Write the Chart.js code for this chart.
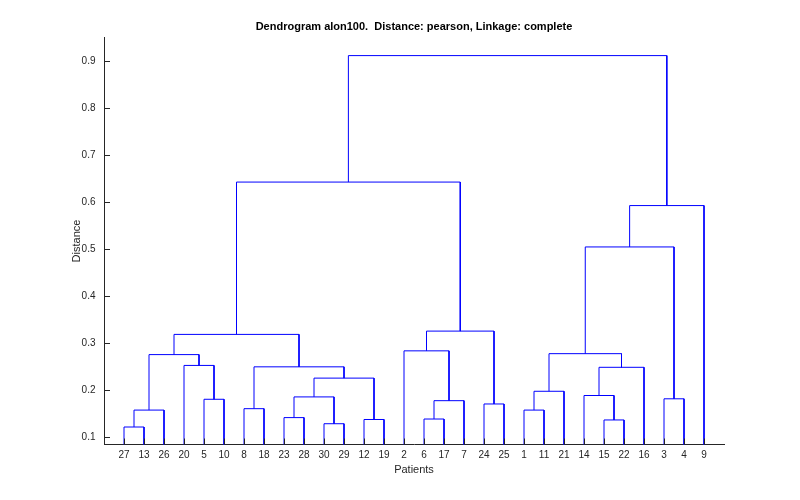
<!DOCTYPE html>
<html>
<head>
<meta charset="utf-8">
<script src="https://cdn.jsdelivr.net/npm/chart.js@4/dist/chart.umd.min.js"></script>
<style>
  html, body { margin: 0; padding: 0; background: #fff; }
  #wrap { width: 800px; height: 500px; }
</style>
</head>
<body>
<div id="wrap"><canvas id="myChart" width="800" height="500"></canvas></div>
<script>
// leaf order along the x axis (patient numbers)
const leafOrder = [27, 13, 26, 20, 5, 10, 8, 18, 23, 28, 30, 29, 12, 19, 2, 6, 17, 7, 24, 25, 1, 11, 21, 14, 15, 22, 16, 3, 4, 9]

// linkage rows: row i makes node 31 + i from linkLeft[i] and linkRight[i] at linkHeight[i]
const linkLeft = [27, 30, 15, 12, 6, 23, 31, 1, 8, 24, 35, 5, 3, 36, 14, 38, 44, 45, 39, 20, 37, 46, 2, 51, 53, 52, 56, 54, 58]
const linkRight = [13, 29, 22, 19, 17, 28, 26, 11, 18, 25, 7, 10, 4, 32, 33, 21, 34, 16, 47, 42, 50, 48, 41, 49, 40, 43, 9, 55, 57]
const linkHeight = [0.121, 0.128, 0.136, 0.137, 0.138, 0.141, 0.157, 0.157, 0.160, 0.170, 0.177, 0.180, 0.181, 0.185, 0.188, 0.197, 0.225, 0.248, 0.249, 0.252, 0.275, 0.277, 0.283, 0.318, 0.325, 0.504, 0.592, 0.642, 0.911]

const yTicks = [0.1, 0.2, 0.3, 0.4, 0.5, 0.6, 0.7, 0.8, 0.9]

const axisColor = '#262626'
const fontFamily = '"Liberation Sans", Arial, Helvetica, sans-serif'

// position and height of every node (leaves sit at height 0)
const nodeX = {}
const nodeY = {}
leafOrder.forEach((id, i) => {
  nodeX[id] = i + 1
  nodeY[id] = 0
})

const datasets = linkHeight.map((h, i) => {
  const a = linkLeft[i]
  const b = linkRight[i]
  const id = 31 + i
  nodeX[id] = (nodeX[a] + nodeX[b]) / 2
  nodeY[id] = h
  return {
    data: [
      {x: nodeX[a], y: nodeY[a]},
      {x: nodeX[a], y: h},
      {x: nodeX[b], y: h},
      {x: nodeX[b], y: nodeY[b]}
    ],
    showLine: true,
    borderColor: '#0000ff',
    borderWidth: 1,
    pointRadius: 0,
    fill: false,
    tension: 0
  }
})

// MATLAB style ticks pointing into the plot
const inwardTicks = {
  id: 'inwardTicks',
  afterDraw(chart) {
    const {ctx, chartArea, scales: {x, y}} = chart
    ctx.save()
    ctx.strokeStyle = axisColor
    ctx.lineWidth = 1
    ctx.beginPath()
    x.ticks.forEach((t) => {
      const px = Math.round(x.getPixelForValue(t.value)) + 0.5
      ctx.moveTo(px, chartArea.bottom)
      ctx.lineTo(px, chartArea.bottom - 6)
    })
    y.ticks.forEach((t) => {
      const py = Math.round(y.getPixelForValue(t.value)) + 0.5
      ctx.moveTo(chartArea.left, py)
      ctx.lineTo(chartArea.left + 6, py)
    })
    ctx.stroke()
    ctx.restore()
  }
}

const ctx = document.getElementById('myChart').getContext('2d')

const config = {
  type: 'scatter',
  data: {datasets},
  options: {
    responsive: false,
    animation: false,
    layout: {padding: {left: 0, right: 76, top: 0, bottom: 0}},
    plugins: {
      legend: {display: false},
      tooltip: {enabled: false},
      title: {
        display: true,
        text: 'Dendrogram alon100.  Distance: pearson, Linkage: complete',
        fullSize: false,
        color: '#000',
        font: {family: fontFamily, size: 11, weight: 'bold'},
        padding: {top: 20.7, bottom: 3.6}
      }
    },
    scales: {
      x: {
        type: 'linear',
        min: 0,
        max: 31,
        afterFit: (scale) => { scale.height = 55.5 },
        afterBuildTicks: (scale) => {
          scale.ticks = leafOrder.map((id, i) => ({value: i + 1}))
        },
        grid: {display: false, drawTicks: false},
        border: {display: true, color: axisColor, width: 1},
        ticks: {
          autoSkip: false,
          maxRotation: 0,
          padding: 5,
          color: axisColor,
          font: {family: fontFamily, size: 10},
          callback: (value) => leafOrder[value - 1]
        },
        title: {
          display: true,
          text: 'Patients',
          color: axisColor,
          font: {family: fontFamily, size: 11},
          padding: {top: 0, bottom: 23.4}
        }
      },
      y: {
        type: 'linear',
        min: 0.0838,
        max: 0.9495,
        afterFit: (scale) => { scale.width = 104 },
        afterBuildTicks: (scale) => {
          scale.ticks = yTicks.map((v) => ({value: v}))
        },
        grid: {display: false, drawTicks: false},
        border: {display: true, color: axisColor, width: 1},
        ticks: {
          padding: 8.5,
          color: axisColor,
          font: {family: fontFamily, size: 10},
          callback: (value) => value.toFixed(1)
        },
        title: {
          display: true,
          text: 'Distance',
          color: axisColor,
          font: {family: fontFamily, size: 11},
          padding: {top: 70, bottom: 0}
        }
      }
    }
  },
  plugins: [inwardTicks]
}

const myChart = new Chart(ctx, config)
</script>
</body>
</html>
